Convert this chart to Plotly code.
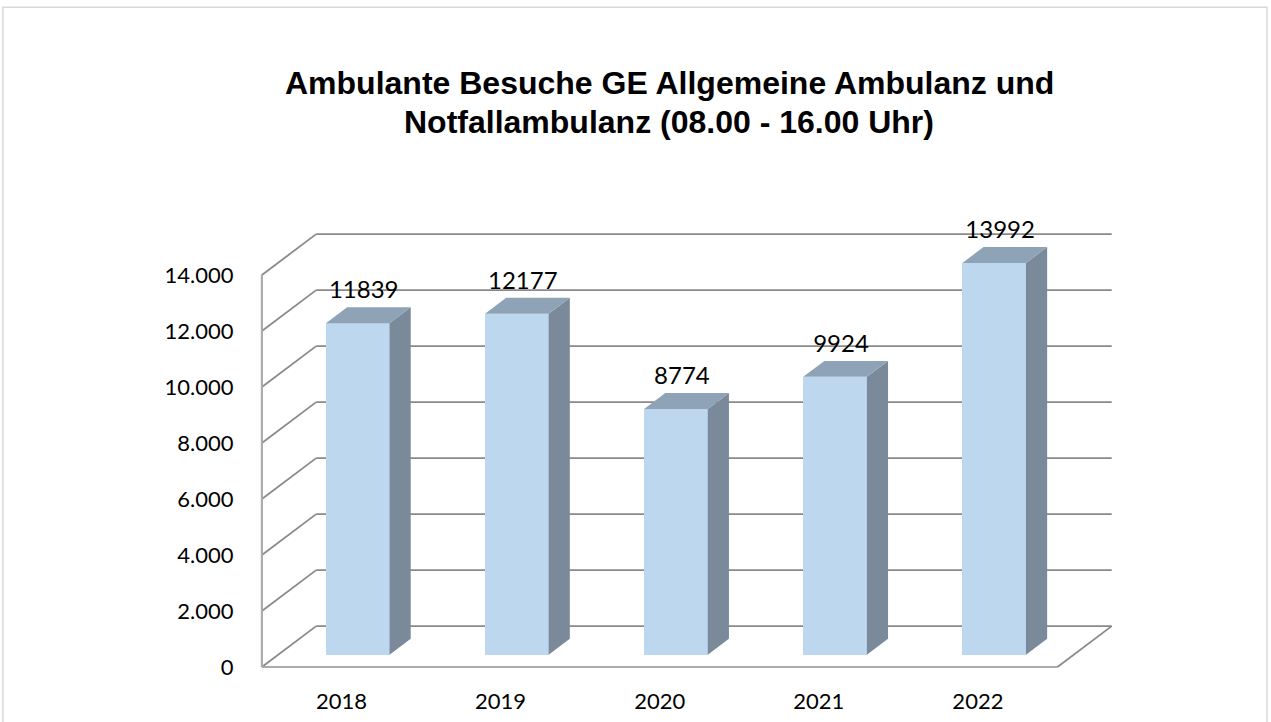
import plotly.graph_objects as go

# ---------------- data ----------------
years = ["2018", "2019", "2020", "2021", "2022"]
visits = [11839, 12177, 8774, 9924, 13992]
y_tick_values = [0, 2000, 4000, 6000, 8000, 10000, 12000, 14000]
y_tick_labels = ["0", "2.000", "4.000", "6.000", "8.000", "10.000", "12.000", "14.000"]
title_lines = ["Ambulante Besuche GE Allgemeine Ambulanz und", "Notfallambulanz (08.00 - 16.00 Uhr)"]

# ---------------- layout geometry ----------------
W, H = 1271, 722
X0_PX = 262.0          # pixel of front-left floor corner
CAT_PX = 159.1         # pixels per category
Y0_PX = 667.3          # pixel of value 0 on front plane
PX_PER_UNIT = 0.02802  # pixels per value unit
X_RANGE = [-0.1, 5.5]
Y_RANGE = [-500, 16000]

ml = X0_PX + X_RANGE[0] * CAT_PX
mr = W - (X0_PX + X_RANGE[1] * CAT_PX)
mt = Y0_PX - Y_RANGE[1] * PX_PER_UNIT
mb = H - (Y0_PX - Y_RANGE[0] * PX_PER_UNIT)

# oblique depth (in data units)
DX = 0.341      # category units to back wall
DY = 1460       # value units to back wall
F0 = 0.30       # bar front at this depth fraction
FB = 0.39       # bar depth fraction
BAR_W = 0.4

GRID_C = "#8A8A8A"
EDGE_C = "#ABABAB"
FRONT_C = "#BDD7EE"
SIDE_C = "#7A8A9B"
TOP_C = "#8FA3B6"
FONT = "Lato, 'Open Sans', sans-serif"
TITLE_FONT = "Liberation Sans, Arial, sans-serif"

n = len(years)
shapes = []
# back wall and left wall gridlines
for v in y_tick_values:
    shapes.append(dict(type="line", xref="x", yref="y", x0=DX, y0=v + DY, x1=n + DX, y1=v + DY,
                       line=dict(color=GRID_C, width=1.8), layer="below"))
    shapes.append(dict(type="line", xref="x", yref="y", x0=0, y0=v, x1=DX, y1=v + DY,
                       line=dict(color=GRID_C, width=1.8), layer="below"))
# floor front edge, right edge, left wall front edge
shapes.append(dict(type="line", xref="x", yref="y", x0=0, y0=0, x1=n, y1=0,
                   line=dict(color=EDGE_C, width=2.2), layer="below"))
shapes.append(dict(type="line", xref="x", yref="y", x0=n, y0=0, x1=n + DX, y1=DY,
                   line=dict(color=GRID_C, width=1.8), layer="below"))
shapes.append(dict(type="line", xref="x", yref="y", x0=0, y0=0, x1=0, y1=y_tick_values[-1],
                   line=dict(color=EDGE_C, width=2.2), layer="below"))


# outer chart frame (pixel -> paper)
def px_to_paper_x(px):
    return (px - ml) / (W - ml - mr)


def px_to_paper_y(py):
    return (H - mb - py) / (H - mt - mb)


shapes.append(dict(type="rect", xref="paper", yref="paper",
                   x0=px_to_paper_x(3), x1=px_to_paper_x(1267),
                   y0=px_to_paper_y(730), y1=px_to_paper_y(7),
                   line=dict(color="#D9D9D9", width=1.5), fillcolor="rgba(0,0,0,0)", layer="below"))

fig = go.Figure()

centers = [i + 0.5 + F0 * DX for i in range(n)]
base = F0 * DY

# front faces
fig.add_trace(go.Bar(x=centers, y=visits, base=base, width=BAR_W,
                     marker=dict(color=FRONT_C, line=dict(width=0)), hoverinfo="skip",
                     showlegend=False))

# side and top faces
side_x, side_y, top_x, top_y = [], [], [], []
ddx, ddy = FB * DX, FB * DY
for c, v in zip(centers, visits):
    xl, xr = c - BAR_W / 2, c + BAR_W / 2
    yb, yt = base, base + v
    side_x += [xr, xr + ddx, xr + ddx, xr, xr, None]
    side_y += [yb, yb + ddy, yt + ddy, yt, yb, None]
    top_x += [xl, xl + ddx, xr + ddx, xr, xl, None]
    top_y += [yt, yt + ddy, yt + ddy, yt, yt, None]

fig.add_trace(go.Scatter(x=side_x, y=side_y, mode="lines", fill="toself", fillcolor=SIDE_C,
                         line=dict(width=0, color=SIDE_C), hoverinfo="skip", showlegend=False))
fig.add_trace(go.Scatter(x=top_x, y=top_y, mode="lines", fill="toself", fillcolor=TOP_C,
                         line=dict(width=0, color=TOP_C), hoverinfo="skip", showlegend=False))

# value labels
label_dx = 6 / CAT_PX
label_dy = 15 / PX_PER_UNIT
fig.add_trace(go.Scatter(x=[c + label_dx for c in centers],
                         y=[base + v + ddy + label_dy for v in visits],
                         mode="text", text=[str(v) for v in visits], textposition="middle center",
                         textfont=dict(family=FONT, size=24, color="#000000"),
                         cliponaxis=False, hoverinfo="skip", showlegend=False))

# title, two lines
annotations = []
for line_text, y_px in zip(title_lines, [83, 122]):
    annotations.append(dict(text="<b>" + line_text + "</b>", xref="paper", yref="paper",
                            x=px_to_paper_x(669.5), y=px_to_paper_y(y_px),
                            xanchor="center", yanchor="middle", showarrow=False,
                            font=dict(family=TITLE_FONT, size=32, color="#000000")))

fig.update_layout(
    width=W, height=H,
    margin=dict(l=ml, r=mr, t=mt, b=mb, pad=0),
    paper_bgcolor="white", plot_bgcolor="white",
    shapes=shapes,
    annotations=annotations,
    showlegend=False,
    xaxis=dict(range=X_RANGE, tickmode="array", tickvals=[i + 0.5 for i in range(n)], ticktext=years,
               showgrid=False, zeroline=False, showline=False, ticks="outside", ticklen=1,
               tickcolor="rgba(0,0,0,0)", tickfont=dict(family=FONT, size=22, color="#000000"),
               automargin=False, fixedrange=True),
    yaxis=dict(range=Y_RANGE, tickmode="array", tickvals=y_tick_values, ticktext=y_tick_labels,
               showgrid=False, zeroline=False, showline=False, ticks="outside", ticklen=7,
               tickcolor="rgba(0,0,0,0)", tickfont=dict(family=FONT, size=22, color="#000000"),
               automargin=False, fixedrange=True),
    bargap=0,
)

fig.write_html("out.html", config={"displayModeBar": False},
               post_script="document.body.style.margin='0';document.body.style.overflow='hidden';")
